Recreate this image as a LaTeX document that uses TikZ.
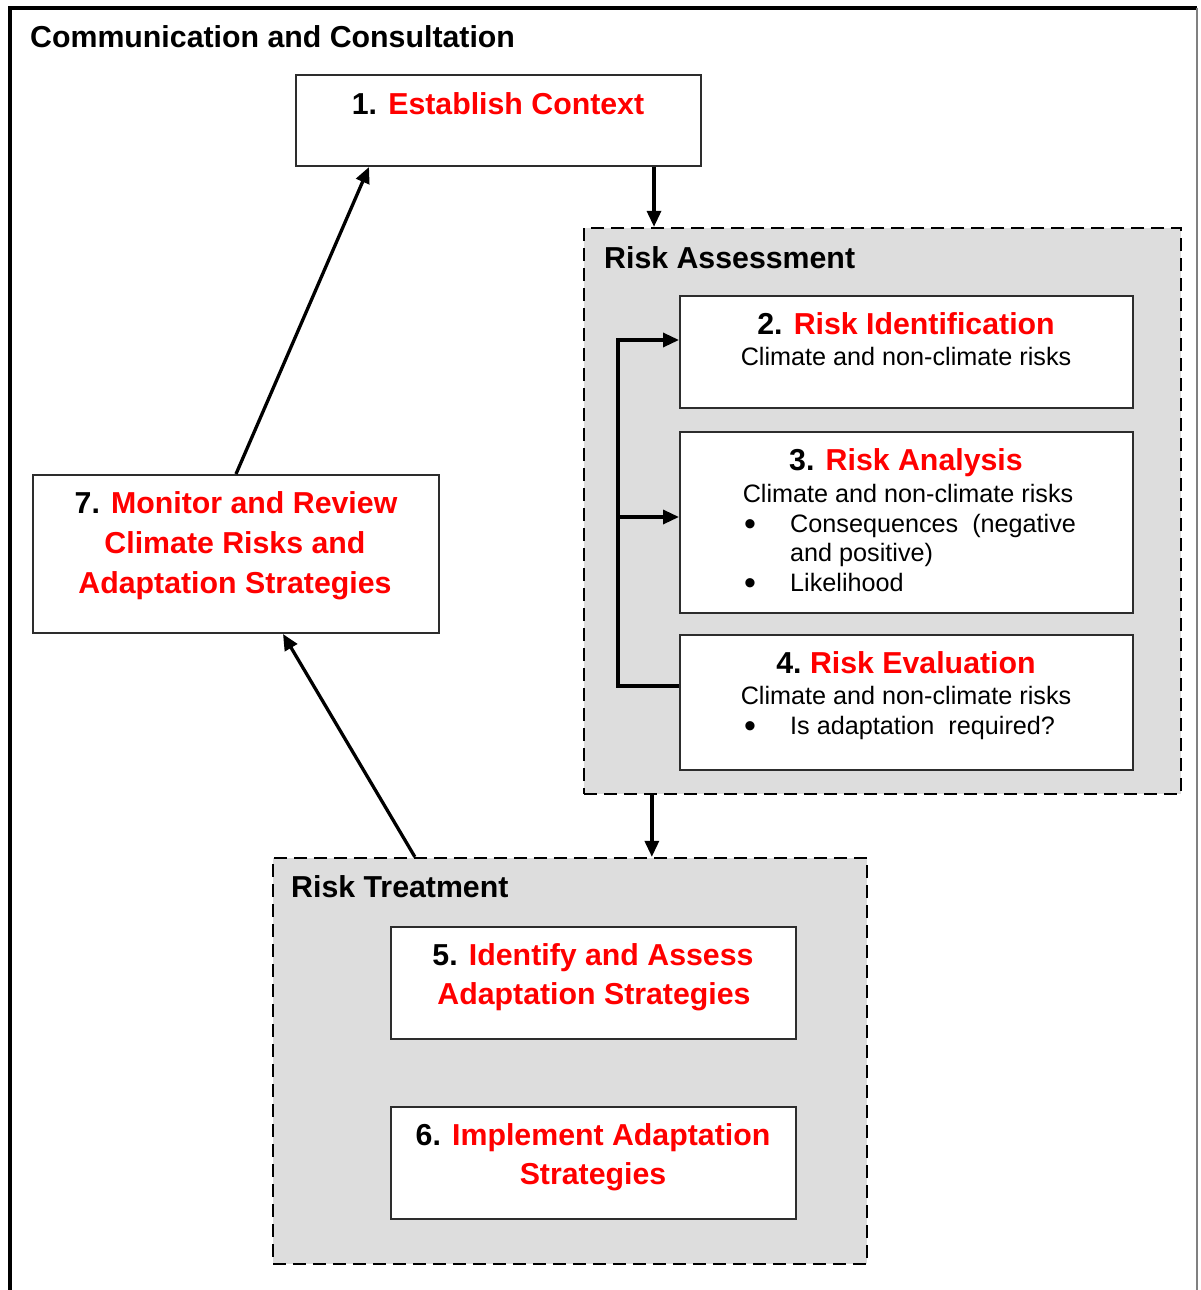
\documentclass[tikz,border=0pt]{standalone}
\usepackage{fontspec}
\setmainfont{Liberation Sans}
\usetikzlibrary{arrows.meta,calc}
\definecolor{bgray}{RGB}{221,221,221}
\definecolor{edge}{RGB}{45,45,45}
\definecolor{tred}{RGB}{255,0,0}
\newcommand{\bfz}{\fontsize{30.3}{36}\selectfont\bfseries}
\newcommand{\rgz}{\fontsize{25.2}{30}\selectfont}
\newcommand{\blz}{\fontsize{34}{30}\selectfont}
\tikzset{
  box/.style={draw=edge, line width=2pt, fill=white, inner sep=0pt},
  group/.style={draw=black, dash pattern=on 13pt off 7pt, line width=2.3pt, fill=bgray, inner sep=0pt},
  arr/.style={draw=black, line width=3.3pt, -{Triangle[length=16pt,width=14pt]}},
  bt/.style={anchor=base, font=\bfz, inner sep=0pt},
  rt/.style={anchor=base, font=\rgz, inner sep=0pt},
  bl/.style={anchor=base, font=\blz, inner sep=0pt},
  lt/.style={anchor=base west, font=\rgz, inner sep=0pt},
  hd/.style={anchor=base west, font=\bfz, inner sep=0pt},
}
\begin{document}
\begin{tikzpicture}[x=1pt,y=-1pt]
\useasboundingbox (0,0) rectangle (1200,1290);
% outer frame
\draw[line width=4pt, line join=miter] (10,1295) -- (10,8) -- (1197,8);
\draw[line width=2.2pt, draw=gray] (1197,8) -- (1197,1295);
\node[hd] (title) at (30,48) {Communication and Consultation};

% groups
\node[group, minimum width=597pt, minimum height=566pt] (ra) at (882.5,511) {};
\node[hd] (ralab) at (604,268) {Risk Assessment};
\node[group, minimum width=594pt, minimum height=406pt] (rtr) at (570,1061) {};
\node[hd] (rtlab) at (291,897) {Risk Treatment};

% boxes
\node[box, minimum width=405pt, minimum height=91pt] (b1) at (498.5,120.5) {};
\node[box, minimum width=453pt, minimum height=112pt] (b2) at (906.5,352) {};
\node[box, minimum width=453pt, minimum height=181pt] (b3) at (906.5,522.5) {};
\node[box, minimum width=453pt, minimum height=135pt] (b4) at (906.5,702.5) {};
\node[box, minimum width=405pt, minimum height=112pt] (b5) at (593.5,983) {};
\node[box, minimum width=405pt, minimum height=112pt] (b6) at (593.5,1163) {};
\node[box, minimum width=406pt, minimum height=158pt] (b7) at (236,554) {};

% texts
\node[bt] (t1) at (498,114) {1. \textcolor{tred}{Establish Context}};
\node[bt] (t2) at (906,334) {2. \textcolor{tred}{Risk Identification}};
\node[rt] (t2a) at (906,365) {Climate and non-climate risks};
\node[bt] (t3) at (906,470) {3. \textcolor{tred}{Risk Analysis}};
\node[rt] (t3a) at (908,502) {Climate and non-climate risks};
\node[bl] (t3b) at (750,535) {•};
\node[lt] (t3c) at (790,532) {Consequences\ \ (negative};
\node[lt] (t3d) at (790,561) {and positive)};
\node[bl] (t3e) at (750,594) {•};
\node[lt] (t3f) at (790,591) {Likelihood};
\node[bt] (t4) at (906,673) {4.\ \textcolor{tred}{Risk Evaluation}};
\node[rt] (t4a) at (906,704) {Climate and non-climate risks};
\node[bl] (t4b) at (750,737) {•};
\node[lt] (t4c) at (790,734) {Is adaptation\ \ required?};
\node[bt] (t5) at (593,965) {5. \textcolor{tred}{Identify and Assess}};
\node[bt] (t5a) at (594,1004) {\textcolor{tred}{Adaptation Strategies}};
\node[bt] (t6) at (593,1145) {6. \textcolor{tred}{Implement Adaptation}};
\node[bt] (t6a) at (593,1184) {\textcolor{tred}{Strategies}};
\node[bt] (t7) at (236,513) {7. \textcolor{tred}{Monitor and Review}};
\node[bt] (t7a) at (235,553) {\textcolor{tred}{Climate Risks and}};
\node[bt] (t7b) at (235,593) {\textcolor{tred}{Adaptation Strategies}};

% connectors
\draw[arr] ([xshift=-48pt]b1.south east) -- ([xshift=-48pt]b1.south east |- ra.north);
\draw[arr] ([xshift=69pt]ra.south west) -- ([xshift=69pt]ra.south west |- rtr.north);
\coordinate (bk) at (618,686);
\coordinate (a3) at ([yshift=5.5pt]b3.west);
\draw[arr, line join=miter] ([yshift=16.5pt]b4.west) -- (bk) |- ([yshift=12pt]b2.west);
\draw[arr] (bk |- a3) -- (a3);
\draw[arr] ([xshift=143pt]rtr.north west) -- ([xshift=47pt]b7.south);
\draw[arr] (b7.north) -- ([xshift=74pt]b1.south west);
\end{tikzpicture}
\end{document}
